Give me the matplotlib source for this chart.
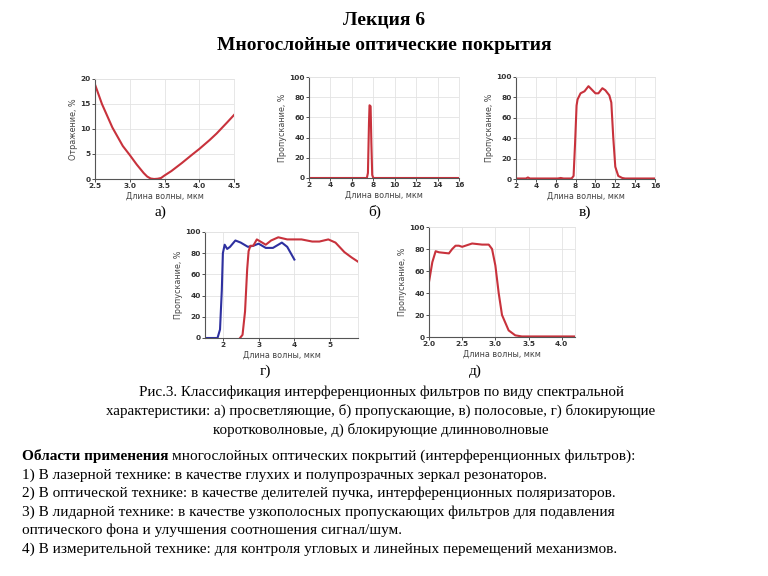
import numpy as np
import matplotlib.pyplot as plt

# Data
# а) просветляющие
a_x = [2.5, 2.6, 2.75, 2.9, 3.0, 3.1, 3.2, 3.25, 3.3, 3.35, 3.4, 3.45, 3.5, 3.6, 3.75, 3.9, 4.0, 4.15, 4.25, 4.4, 4.5]
a_y = [18.9, 15.0, 10.3, 6.6, 4.8, 2.9, 1.2, 0.5, 0.1, 0.0, 0.05, 0.2, 0.7, 1.6, 3.2, 4.9, 6.0, 7.8, 9.1, 11.3, 12.8]

# б) пропускающие
b_x = [2, 7.4, 7.5, 7.6, 7.65, 7.75, 7.82, 7.9, 8.0, 16]
b_y = [0, 0, 5, 55, 72, 71, 35, 3, 0, 0]

# в) полосовые
v_x = [2, 3.0, 3.2, 3.4, 6.2, 6.5, 6.8, 7.6, 7.8, 7.95, 8.1, 8.2, 8.5, 8.9, 9.3, 9.7, 10.0, 10.3,
       10.7, 11.0, 11.4, 11.6, 11.8, 12.0, 12.3, 12.7, 13.0, 16]
v_y = [0.5, 0.5, 1.5, 0.5, 0.5, 1.0, 0.5, 0.5, 3, 35, 72, 78, 84, 86, 91, 87, 84, 84,
       89, 87, 82, 75, 40, 12, 3, 1, 0.5, 0.5]

# г) блокирующие коротковолновые
g_blue_x = [1.5, 1.85, 1.92, 1.97, 2.0, 2.05, 2.12, 2.2, 2.35, 2.5, 2.7, 2.85, 3.0, 3.2, 3.4, 3.55, 3.65, 3.8, 3.9, 4.0]
g_blue_y = [0, 0, 8, 45, 80, 88, 84, 86, 92, 90, 86, 87, 89, 85, 85, 88, 90, 86, 80, 74]
g_red_x = [2.48, 2.55, 2.62, 2.68, 2.72, 2.77, 2.85, 2.95, 3.05, 3.2, 3.35, 3.55, 3.8, 4.2, 4.5, 4.7,
           4.95, 5.15, 5.4, 5.6, 5.78]
g_red_y = [0, 3, 25, 65, 82, 87, 87, 93, 91, 88, 92, 95, 93, 93, 91, 91, 93, 90, 81, 76, 72]

# д) блокирующие длинноволновые
d_x = [2.0, 2.05, 2.1, 2.15, 2.3, 2.35, 2.4, 2.45, 2.5, 2.55, 2.65, 2.8, 2.9, 2.95, 3.0, 3.05,
       3.1, 3.2, 3.3, 3.4, 3.6, 4.2]
d_y = [50, 68, 78, 77, 76, 80, 83, 83, 82, 83, 85, 84, 84, 80, 65, 40, 20, 6, 1.5, 0.5, 0.5, 0.5]

RED = '#c8323c'
BLUE = '#2e30a0'
XLAB = 'Длина волны, мкм'
YLAB_T = 'Пропускание, %'
YLAB_R = 'Отражение, %'

W, H = 768, 576
fig = plt.figure(figsize=(7.68, 5.76), dpi=100)
fig.patch.set_facecolor('white')


def make_axes(l, r, t, b):
    return fig.add_axes([l / W, 1 - b / H, (r - l) / W, (b - t) / H])


def style(ax, ylabel, xlim, ylim, xticks, yticks, xfmt='{:g}'):
    ax.set_xlim(*xlim)
    ax.set_ylim(*ylim)
    ax.set_xticks(xticks)
    ax.set_yticks(yticks)
    ax.set_xticklabels([xfmt.format(t) for t in xticks])
    ax.grid(True, color='#e3e3e3', linewidth=0.6)
    ax.set_axisbelow(True)
    for s in ['top', 'right']:
        ax.spines[s].set_color('#e3e3e3')
        ax.spines[s].set_linewidth(0.6)
    for s in ['left', 'bottom']:
        ax.spines[s].set_color('#555555')
        ax.spines[s].set_linewidth(0.8)
    ax.tick_params(labelsize=5.3, length=2, width=0.6, pad=1, colors='#333333')
    for lab in ax.get_xticklabels() + ax.get_yticklabels():
        lab.set_fontweight('bold')
    ax.set_xlabel(XLAB, fontsize=5.8, color='#444444', labelpad=2)
    ax.set_ylabel(ylabel, fontsize=5.8, color='#444444', labelpad=2)


ax_a = make_axes(95, 234, 79, 179)
ax_a.plot(a_x, a_y, color=RED, lw=1.5)
style(ax_a, YLAB_R, (2.5, 4.5), (0, 20), [2.5, 3.0, 3.5, 4.0, 4.5], [0, 5, 10, 15, 20], '{:.1f}')

ax_b = make_axes(309, 459, 77, 178)
ax_b.plot(b_x, b_y, color=RED, lw=1.5)
style(ax_b, YLAB_T, (2, 16), (0, 100), [2, 4, 6, 8, 10, 12, 14, 16], [0, 20, 40, 60, 80, 100])

ax_v = make_axes(516, 655, 77, 179)
ax_v.plot(v_x, v_y, color=RED, lw=1.5)
style(ax_v, YLAB_T, (2, 16), (0, 100), [2, 4, 6, 8, 10, 12, 14, 16], [0, 20, 40, 60, 80, 100])

ax_g = make_axes(205, 358, 232, 338)
ax_g.plot(g_blue_x, g_blue_y, color=BLUE, lw=1.5)
ax_g.plot(g_red_x, g_red_y, color=RED, lw=1.5)
style(ax_g, YLAB_T, (1.5, 5.78), (0, 100), [2, 3, 4, 5], [0, 20, 40, 60, 80, 100])

ax_d = make_axes(429, 575, 227, 337)
ax_d.plot(d_x, d_y, color=RED, lw=1.5)
style(ax_d, YLAB_T, (2.0, 4.2), (0, 100), [2.0, 2.5, 3.0, 3.5, 4.0], [0, 20, 40, 60, 80, 100], '{:.1f}')

serif = 'Liberation Serif'


def ftext(x, y, s, **kw):
    kw.setdefault('family', serif)
    return fig.text(x / W, 1 - y / H, s, **kw)


# Title
ftext(384, 20, 'Лекция 6', ha='center', va='center', fontsize=14, fontweight='bold')
ftext(384, 46, 'Многослойные оптические покрытия', ha='center', va='center', fontsize=14, fontweight='bold')

# Panel labels
for x, y, s in [(160, 212, 'а)'), (375, 212, 'б)'), (585, 212, 'в)'), (265, 371, 'г)'), (475, 371, 'д)')]:
    ftext(x, y, s, ha='center', va='center', fontsize=11)

# Caption
caption = ['Рис.3. Классификация интерференционных фильтров по виду спектральной',
           'характеристики: а) просветляющие, б) пропускающие, в) полосовые, г) блокирующие',
           'коротковолновые, д) блокирующие длинноволновые']
for i, line in enumerate(caption):
    ftext(381, 392 + i * 19, line, ha='center', va='center', fontsize=10.8)

# Body text
bold_part = 'Области применения '
first_rest = 'многослойных оптических покрытий (интерференционных фильтров):'
body = ['1) В лазерной технике: в качестве глухих и полупрозрачных зеркал резонаторов.',
        '2) В оптической технике: в качестве делителей пучка, интерференционных поляризаторов.',
        '3) В лидарной технике: в качестве узкополосных пропускающих фильтров для подавления',
        'оптического фона и улучшения соотношения сигнал/шум.',
        '4) В измерительной технике: для контроля угловых и линейных перемещений механизмов.']

t0 = ftext(22, 456, bold_part, ha='left', va='center', fontsize=11, fontweight='bold')
renderer = fig.canvas.get_renderer()
bb = t0.get_window_extent(renderer=renderer)
fig.text(bb.x1 / W, 1 - 456 / H, first_rest, ha='left', va='center', fontsize=11, family=serif)
for i, line in enumerate(body):
    ftext(22, 475 + i * 18.5, line, ha='left', va='center', fontsize=11)

fig.savefig('out.png', dpi=100)
